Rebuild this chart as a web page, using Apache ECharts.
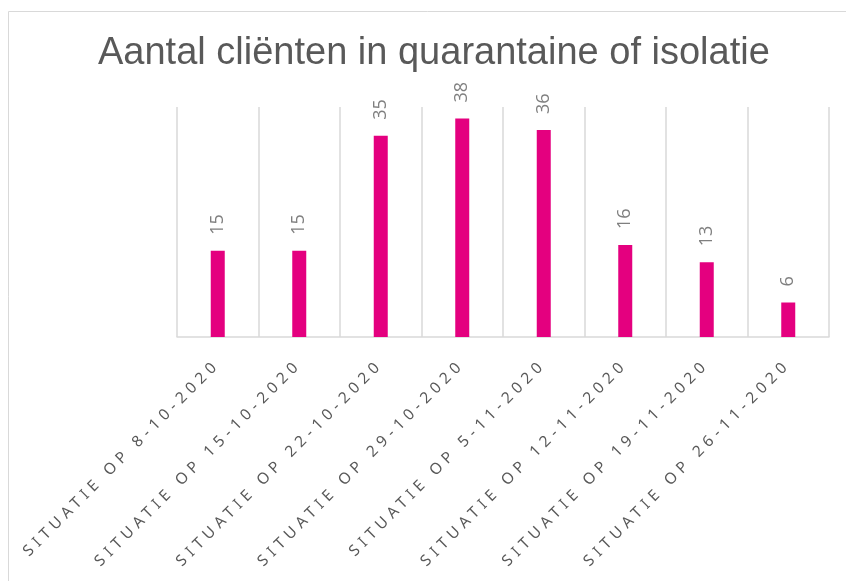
<!DOCTYPE html>
<html>
<head>
<meta charset="utf-8">
<title>Aantal cliënten in quarantaine of isolatie</title>
<script src="https://cdn.jsdelivr.net/npm/echarts@6/dist/echarts.min.js"></script>
<style>
    html, body { margin: 0; padding: 0; background: #fff; }
    #chart { width: 846px; height: 581px; }
</style>
</head>
<body>
<div id="chart"></div>
<script>
// gegevens
var categories = [
    "Situatie op 8-10-2020",
    "Situatie op 15-10-2020",
    "Situatie op 22-10-2020",
    "Situatie op 29-10-2020",
    "Situatie op 5-11-2020",
    "Situatie op 12-11-2020",
    "Situatie op 19-11-2020",
    "Situatie op 26-11-2020"
];
var aantallen = [15, 15, 35, 38, 36, 16, 13, 6];

// letterafstand zoals in Excel, alleen voor de aslabels (Noto Sans)
var fillText = CanvasRenderingContext2D.prototype.fillText;
CanvasRenderingContext2D.prototype.fillText = function (text, x, y, maxWidth) {
    this.letterSpacing = this.font.indexOf('Noto Sans') > -1 ? '5px' : '0px';
    if (maxWidth === undefined) {
        return fillText.call(this, text, x, y);
    }
    return fillText.call(this, text, x, y, maxWidth);
};

var option = {
    animation: false,
    title: {
        text: 'Aantal cliënten in quarantaine of isolatie',
        left: 98,
        top: 35,
        padding: 0,
        textStyle: {
            fontFamily: 'Liberation Sans',
            fontSize: 38,
            fontWeight: 'normal',
            color: '#595959'
        }
    },
    graphic: [{
        type: 'rect',
        shape: { x: 8.5, y: 11.5, width: 900, height: 700 },
        style: { fill: 'none', stroke: '#d9d9d9', lineWidth: 1 },
        silent: true
    }],
    grid: { left: 177, right: 17, top: 107, bottom: 244 },
    xAxis: {
        type: 'category',
        data: categories,
        boundaryGap: true,
        axisLine: { lineStyle: { color: '#d9d9d9', width: 1.5 } },
        axisTick: { show: false },
        splitLine: { show: true, lineStyle: { color: '#d9d9d9', width: 1.5 } },
        axisLabel: {
            interval: 0,
            rotate: 45,
            margin: 25,
            color: '#595959',
            fontFamily: 'Noto Sans',
            fontSize: 15.5,
            formatter: function (v) { return v.toUpperCase(); }
        }
    },
    yAxis: {
        type: 'value',
        min: 0,
        max: 40,
        show: false,
        splitLine: { show: false }
    },
    series: [{
        type: 'bar',
        data: aantallen,
        barWidth: 14,
        itemStyle: { color: '#e4007f' },
        label: {
            show: true,
            position: 'top',
            distance: 16,
            rotate: 90,
            align: 'left',
            verticalAlign: 'middle',
            color: '#7f7f7f',
            fontFamily: 'Open Sans',
            fontSize: 18
        }
    }]
};

var mychart = echarts.init(document.getElementById('chart'));
mychart.setOption(option);
</script>
</body>
</html>
